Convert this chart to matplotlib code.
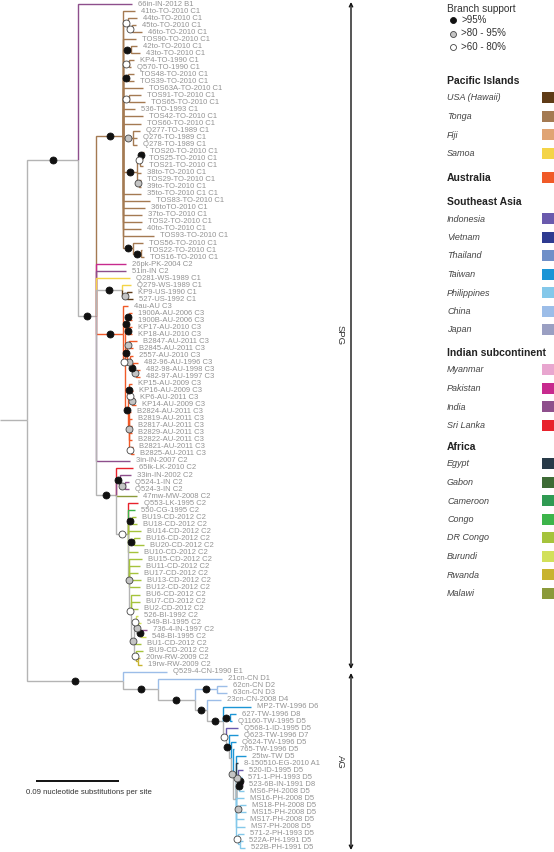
import re
import numpy as np
import matplotlib
matplotlib.use("Agg")
import matplotlib.pyplot as plt
from matplotlib.transforms import offset_copy
from matplotlib.patches import Rectangle

plt.rcParams['font.family'] = ['Liberation Sans', 'DejaVu Sans']

# ---------------- DATA ----------------
# Newick clades; branch lengths in 1e-3 nucleotide substitutions per site;
# internal node labels = branch support class (H: >95%, M: >80-95%, L: >60-80%)
TONGA_C1 = ("(41to-TO-2010_C1:13.0,(44to-TO-2010_C1:9.8,(45to-TO-2010_C1:4.3,46to-TO-2010_C1:10.8)L:4.3)L:5.4,"
            "TOS90-TO-2010_C1:14.1,(42to-TO-2010_C1:6.5,43to-TO-2010_C1:9.8)H:8.7,"
            "(KP4-TO-1990_C1:5.4,Q570-TO-1990_C1:2.2)L:6.5,(TOS48-TO-2010_C1:6.5,TOS39-TO-2010_C1:6.5)H:5.4,"
            "TOS63A-TO-2010_C1:21.7,(TOS91-TO-2010_C1:13.0,TOS65-TO-2010_C1:17.3)L:6.5,536-TO-1993_C1:13.0,"
            "TOS42-TO-2010_C1:21.7,TOS60-TO-2010_C1:19.5,"
            "(Q277-TO-1989_C1:7.6,Q276-TO-1989_C1:4.3,Q278-TO-1989_C1:4.3)M:10.8,"
            "(((TOS20-TO-2010_C1:2.2,TOS25-TO-2010_C1:1.1)H:2.2,TOS21-TO-2010_C1:3.3)L:3.3,38to-TO-2010_C1:4.3,"
            "(TOS29-TO-2010_C1:2.2,39to-TO-2010_C1:2.2)M:2.2)H:15.2,35to-TO-2010_C1_C1:19.5,TOS83-TO-2010_C1:29.3,"
            "36toTO-2010_C1:23.8,37to-TO-2010_C1:20.6,TOS2-TO-2010_C1:20.6,40to-TO-2010_C1:19.5,TOS93-TO-2010_C1:33.6,"
            "(TOS56-TO-2010_C1:10.8,(TOS22-TO-2010_C1:1.1,TOS16-TO-2010_C1:3.3)H:8.7)H:10.8)H:29.3")

SAMOA_US_C1 = "(Q279-WS-1989_C1:9.8,(KP9-US-1990_C1:5.4,527-US-1992_C1:6.5)M:5.4)H:28.2"

AUSTRALIA_C3 = ("(4au-AU_C3:5.4,(((1900A-AU-2006_C3:3.3,1900B-AU-2006_C3:3.3)H:2.2,(KP17-AU-2010_C3:3.3,KP18-AU-2010_C3:3.3)H:2.2)H:2.2,"
                "((B2847-AU-2011_C3:8.7,B2845-AU-2011_C3:4.3)M:2.2,(2557-AU-2010_C3:3.3,(482-96-AU-1996_C3:5.4,"
                "(482-98-AU-1998_C3:4.3,482-97-AU-1997_C3:4.3)M:3.3)H:3.3)M:3.3)H:2.2,"
                "((KP15-AU-2009_C3:3.3,(KP16-AU-2009_C3:2.2,(KP6-AU-2011_C3:2.2,KP14-AU-2009_C3:4.3)M:1.1)L:2.2)H:1.1,"
                "(B2824-AU-2011_C3:2.7,B2819-AU-2011_C3:3.8,(B2817-AU-2011_C3:2.7,B2829-AU-2011_C3:2.7)M:1.1,"
                "B2822-AU-2011_C3:3.8,(B2821-AU-2011_C3:2.7,B2825-AU-2011_C3:3.8)L:2.2):0.5)H:3.3)L:2.2)H:29.3")

AFRICA_C2 = ("(65lk-LK-2010_C2:18.4,(33in-IN-2002_C2:11.9,(Q524-1-IN_C2:4.3,Q524-3-IN_C2:4.3)M:5.4)H:4.3,"
             "47mw-MW-2008_C2:22.8,(Q553-LK-1995_C2:10.8,550-CG-1995_C2:7.6,(BU19-CD-2012_C2:4.3,BU18-CD-2012_C2:5.4)H:4.3,"
             "BU14-CD-2012_C2:14.1,(BU16-CD-2012_C2:6.5,BU20-CD-2012_C2:10.8)H:6.5,BU10-CD-2012_C2:10.8,"
             "(BU15-CD-2012_C2:14.1,BU11-CD-2012_C2:11.9,BU17-CD-2012_C2:9.8,BU13-CD-2012_C2:13.0,BU12-CD-2012_C2:11.9,"
             "(BU6-CD-2012_C2:9.8,BU7-CD-2012_C2:9.8,BU2-CD-2012_C2:7.6,((526-BI-1992_C2:2.2,(549-BI-1995_C2:3.3,"
             "(736-4-IN-1997_C2:6.5,548-BI-1995_C2:5.4)H:3.3)M:2.2)L:2.2,BU1-CD-2012_C2:7.6,(BU9-CD-2012_C2:7.6,"
             "(20rw-RW-2009_C2:2.2,19rw-RW-2009_C2:4.3):2.2)L:2.2)M:3.3)L:2.2)M:1.1)L:13.0)H:21.7")

SPG_CLADE = ("(66in-IN-2012_B1:58.5,(" + TONGA_C1 + ",26pk-PK-2004_C2:32.5,51in-IN_C2:32.5,Q281-WS-1989_C1:36.9,"
             + SAMOA_US_C1 + "," + AUSTRALIA_C3 + ",3in-IN-2007_C2:36.9," + AFRICA_C2 + ")H:19.5)H:55.3")

AG_D5_CORE = ("(25tw-TW_D5:10.8,8-150510-EG-2010_A1:2.2,(520-ID-1995_D5:5.4,((571-1-PH-1993_D5:1.1,"
              "523-6B-IN-1991_D8:2.2)H:2.2,MS6-PH-2008_D5:5.4)H:1.1)M:2.2,MS16-PH-2008_D5:8.7,"
              "(MS18-PH-2008_D5:6.5,MS15-PH-2008_D5:6.5)M:4.3,MS17-PH-2008_D5:8.7,MS7-PH-2008_D5:9.8,"
              "(571-2-PH-1993_D5:6.5,(522A-PH-1991_D5:3.3,522B-PH-1991_D5:5.4):2.2)L:2.2):3.3")

AG_CLADE = ("(Q529-4-CN-1990_E1:47.7,(21cn-CN_D1:69.4,((62cn-CN_D2:10.8,63cn-CN_D3:10.8)H:23.8,"
            "(23cn-CN-2008_D4:15.2,(MP2-TW-1996_D6:30.4,(627-TW-1996_D8:6.5,Q1160-TW-1995_D5:2.2)H:7.6,"
            "(Q568-1-ID-1995_D5:13.0,(Q623-TW-1996_D7:9.8,(Q624-TW-1996_D5:5.4,(765-TW-1996_D5:1.1,"
            + AG_D5_CORE + ")M:2.2):2.2)H:3.3)L:3.3)H:17.3)H:13.0)H:40.1)H:37.9)H:104.1")

TREE_NEWICK = "(" + SPG_CLADE + "," + AG_CLADE + "):29.3;"

SCALE_BAR_LENGTH = 90.0   # 0.09 substitutions per site
SCALE_BAR_LABEL = "0.09 nucleotide substitutions per site"

CODE_TO_COUNTRY = {"US": "USA (Hawaii)", "TO": "Tonga", "FJ": "Fiji", "WS": "Samoa", "AU": "Australia",
                   "ID": "Indonesia", "VN": "Vietnam", "TH": "Thailand", "TW": "Taiwan", "PH": "Philippines",
                   "CN": "China", "JP": "Japan", "MM": "Myanmar", "PK": "Pakistan", "IN": "India",
                   "LK": "Sri Lanka", "EG": "Egypt", "GA": "Gabon", "CM": "Cameroon", "CG": "Congo",
                   "CD": "DR Congo", "BI": "Burundi", "RW": "Rwanda", "MW": "Malawi"}

COUNTRY_COLORS = {"USA (Hawaii)": "#5f3b17", "Tonga": "#a47a52", "Fiji": "#e0a474", "Samoa": "#f4d447",
                  "Australia": "#f05a28", "Indonesia": "#6a5aad", "Vietnam": "#2e3a90", "Thailand": "#6f8fc8",
                  "Taiwan": "#1b95d6", "Philippines": "#84c8ea", "China": "#9cbde8", "Japan": "#9a9fc2",
                  "Myanmar": "#e8a6cf", "Pakistan": "#c72a8e", "India": "#8e4f8c", "Sri Lanka": "#e8222c",
                  "Egypt": "#283a48", "Gabon": "#3d6b35", "Cameroon": "#2f9a52", "Congo": "#3db44a",
                  "DR Congo": "#a5c33c", "Burundi": "#d2e05a", "Rwanda": "#c8b32e", "Malawi": "#8b9a3a"}

LEGEND_GROUPS = [("Pacific Islands", ["USA (Hawaii)", "Tonga", "Fiji", "Samoa"]),
                 ("Australia", []),
                 ("Southeast Asia", ["Indonesia", "Vietnam", "Thailand", "Taiwan", "Philippines", "China", "Japan"]),
                 ("Indian subcontinent", ["Myanmar", "Pakistan", "India", "Sri Lanka"]),
                 ("Africa", ["Egypt", "Gabon", "Cameroon", "Congo", "DR Congo", "Burundi", "Rwanda", "Malawi"])]

SUPPORT_LABELS = {"H": ">95%", "M": ">80 - 95%", "L": ">60 - 80%"}
CLADE_LABELS = ["SPG", "AG"]

# ---------------- STYLE ----------------
BACKBONE = "#b4b4b4"
LABEL_COLOR = "#939393"
SUPPORT_STYLE = {"H": dict(mfc="#111111", mec="#111111"),
                 "M": dict(mfc="#c4c4c4", mec="#444444"),
                 "L": dict(mfc="#ffffff", mec="#444444")}


def parse_newick(s):
    s = s.strip().rstrip(';')
    pos = 0
    name_re = re.compile(r"[^:,()]*")
    len_re = re.compile(r":([0-9.eE+-]+)")

    def node():
        nonlocal pos
        n = {"children": [], "name": "", "length": 0.0}
        if s[pos] == '(':
            pos += 1
            while True:
                n["children"].append(node())
                if s[pos] == ',':
                    pos += 1
                    continue
                pos += 1
                break
        m = name_re.match(s, pos)
        n["name"] = m.group(0)
        pos = m.end()
        if pos < len(s) and s[pos] == ':':
            m = len_re.match(s, pos)
            n["length"] = float(m.group(1))
            pos = m.end()
        return n
    return node()


root = parse_newick(TREE_NEWICK)
leaves = []
code_re = re.compile(r"(?<![A-Z])(" + "|".join(CODE_TO_COUNTRY) + r")(?![A-Za-z])")


def layout(n, x0):
    n["x"] = x0 + n["length"]
    if n["children"]:
        for c in n["children"]:
            layout(c, n["x"])
        n["y"] = float(np.mean([c["y"] for c in n["children"]]))
        cols = {c["color"] for c in n["children"]}
        n["color"] = cols.pop() if len(cols) == 1 else BACKBONE
    else:
        n["y"] = float(len(leaves))
        leaves.append(n)
        m = code_re.search(n["name"])
        n["color"] = COUNTRY_COLORS[CODE_TO_COUNTRY[m.group(1)]] if m else BACKBONE


layout(root, 0.0)

# ---------------- FIGURE ----------------
fig = plt.figure(figsize=(5.54, 8.52), dpi=100)
ax = fig.add_axes([0, 0, 1, 1])
PX = 90.0 / 83.0          # data units (1e-3 subst.) per pixel
ax.set_xlim(0, 554 * PX)
row = 7.03
ax.set_ylim((852 - 4) / row, -4 / row)
ax.axis('off')

lw = 1.0
ax.plot([0, root["x"]], [root["y"], root["y"]], color=BACKBONE, lw=lw, solid_capstyle='butt')

support_pts = []


def draw(n):
    for c in n["children"]:
        ax.plot([n["x"], n["x"], c["x"]], [n["y"], c["y"], c["y"]], color=c["color"], lw=lw,
                solid_capstyle='butt', solid_joinstyle='miter', zorder=2)
        draw(c)
        if c["children"] and c["name"] in SUPPORT_STYLE:
            support_pts.append(((n["x"] + c["x"]) / 2.0, c["y"], c["name"]))


draw(root)
for x, y, s in support_pts:
    ax.plot([x], [y], 'o', ms=5.0, mew=0.6, zorder=5, **SUPPORT_STYLE[s])

lab_tr = offset_copy(ax.transData, fig=fig, x=6, y=0, units='dots')
for lf in leaves:
    ax.text(lf["x"], lf["y"], lf["name"].replace("_", " "), transform=lab_tr, fontsize=5.5,
            color=LABEL_COLOR, va='center', ha='left')

# scale bar
sb_x0 = 36 * PX
sb_y = (781 - 4) / row
ax.plot([sb_x0, sb_x0 + SCALE_BAR_LENGTH], [sb_y, sb_y], color="#111111", lw=1.4, solid_capstyle='butt')
ax.text(26 * PX, (792 - 4) / row, SCALE_BAR_LABEL, fontsize=5.55, color="#333333",
        ha='left', va='center')

# ---------------- OVERLAY: clade brackets & legend (pixel coords) ----------------
ov = fig.add_axes([0, 0, 1, 1])
ov.set_xlim(0, 554)
ov.set_ylim(852, 0)
ov.axis('off')
ov.patch.set_alpha(0)

for (y0, y1), lab in zip([(2, 669), (673, 850)], CLADE_LABELS):
    ov.annotate("", xy=(351, y0), xytext=(351, y1),
                arrowprops=dict(arrowstyle='<->', lw=1.0, color='#111111', shrinkA=0, shrinkB=0,
                                mutation_scale=6))
    ov.text(340, (y0 + y1) / 2, lab, rotation=270, fontsize=6.8, color="#333333", ha='center', va='center')

lx = 447
ov.text(lx, 9, "Branch support", fontsize=7.3, color="#333333", va='center', ha='left')
for i, k in enumerate(["H", "M", "L"]):
    yy = 20 + i * 13.5
    ov.plot([453], [yy], 'o', ms=4.3, mew=0.6, **SUPPORT_STYLE[k])
    ov.text(461, yy, SUPPORT_LABELS[k], fontsize=7.0, color="#333333", va='center', ha='left')

header_y = [81, 178, 202, 353, 447]
for (header, items), hy in zip(LEGEND_GROUPS, header_y):
    ov.text(lx, hy, header, fontsize=7.5, fontweight='bold', color="#222222", va='center', ha='left')
    if not items:
        ov.add_patch(Rectangle((542, hy - 6), 14, 11, color=COUNTRY_COLORS[header], lw=0))
        continue
    for j, it in enumerate(items):
        y = hy + 17 + j * 18.5
        ov.text(lx, y, it, fontsize=6.45, style='italic', color="#444444", va='center', ha='left')
        ov.add_patch(Rectangle((542, y - 6), 14, 11, color=COUNTRY_COLORS[it], lw=0))

fig.savefig("out.png", dpi=100)
